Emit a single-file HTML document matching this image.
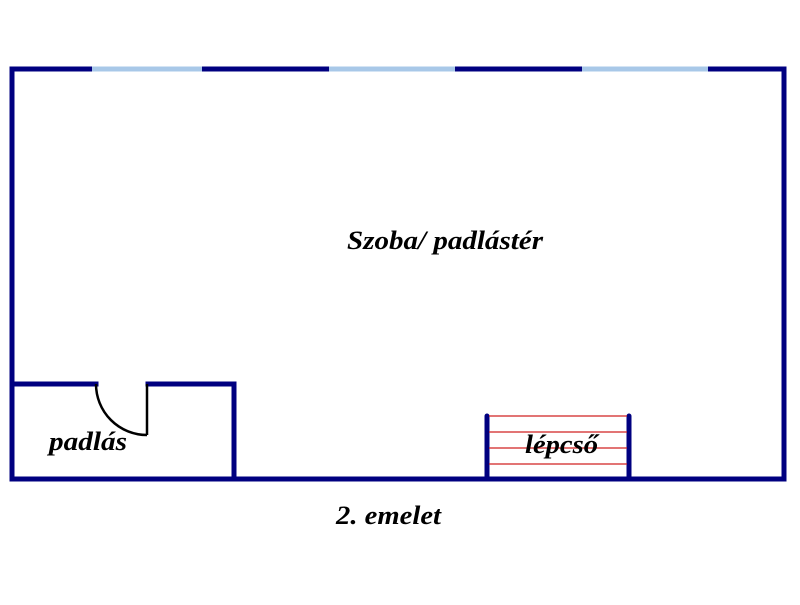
<!DOCTYPE html>
<html><head><style>body{margin:0;background:#fff}</style></head><body>
<svg width="800" height="600" xmlns="http://www.w3.org/2000/svg">
<rect x="0" y="0" width="800" height="600" fill="#fff"/>
<g stroke="#000080" stroke-width="5" fill="none" stroke-linecap="square">
<rect x="12" y="69" width="772" height="410"/>
<polyline points="12,384 96,384"/>
<polyline points="148,384 234,384 234,479"/>
<line x1="487" y1="416" x2="487" y2="479" stroke-linecap="round"/>
<line x1="629" y1="416" x2="629" y2="479" stroke-linecap="round"/>
</g>
<g stroke="#a8c8e8" stroke-width="5">
<line x1="92" y1="69" x2="202" y2="69"/>
<line x1="329" y1="69" x2="455" y2="69"/>
<line x1="582" y1="69" x2="708" y2="69"/>
</g>
<g stroke="#000" stroke-width="2.5" fill="none">
<line x1="147" y1="384" x2="147" y2="435"/>
<path d="M96,384 A51,51 0 0 0 147,435"/>
</g>
<g stroke="#d02020" stroke-width="1.3">
<line x1="489" y1="416" x2="627" y2="416"/>
<line x1="489" y1="432" x2="627" y2="432"/>
<line x1="489" y1="448" x2="627" y2="448"/>
<line x1="489" y1="464" x2="627" y2="464"/>
</g>
<g font-family="Liberation Serif, serif" font-style="italic" font-weight="bold" font-size="26" fill="#000" lengthAdjust="spacingAndGlyphs">
<text x="347" y="249" textLength="196" lengthAdjust="spacingAndGlyphs">Szoba/ padlástér</text>
<text x="49" y="450" textLength="78" lengthAdjust="spacingAndGlyphs">padlás</text>
<text x="525" y="453" textLength="73" lengthAdjust="spacingAndGlyphs">lépcső</text>
<text x="336" y="524" textLength="105" lengthAdjust="spacingAndGlyphs">2. emelet</text>
</g>
</svg>
</body></html>
